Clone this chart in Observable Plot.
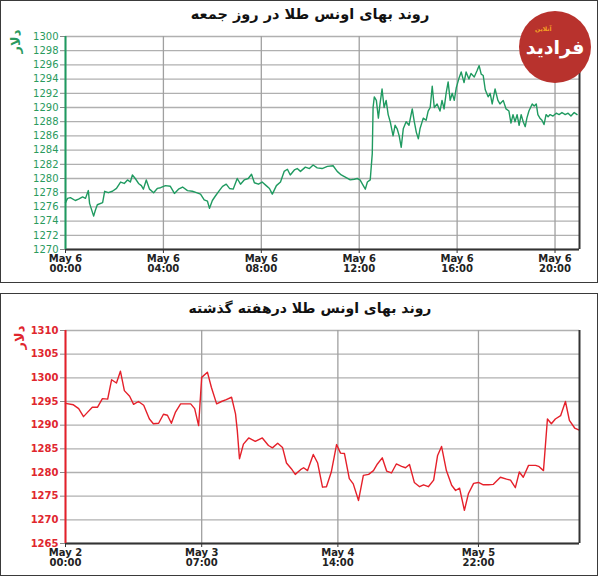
<!DOCTYPE html>
<html>
<head>
<meta charset="utf-8">
<script src="https://cdn.jsdelivr.net/npm/d3@7"></script>
<script src="https://cdn.jsdelivr.net/npm/@observablehq/plot@0.6"></script>
<style>
  html, body { margin: 0; padding: 0; background: #fff; }
  #page { position: relative; width: 600px; height: 578px; overflow: hidden; }
  .panel { position: absolute; left: 0; width: 596px; border: 1.5px solid #3a3a3a; box-sizing: content-box; }
  .plotwrap { position: absolute; left: 0; }
  .title { position: absolute; left: 0; width: 620px; text-align: center; font-family: "DejaVu Sans", sans-serif; font-weight: bold; font-size: 14px; color: #111; direction: rtl; }
  .unit { position: absolute; font-family: "DejaVu Sans", sans-serif; font-weight: bold; font-size: 13px; transform: rotate(-90deg); transform-origin: center; direction: rtl; }
  .logo { position: absolute; left: 519px; top: 11px; width: 72px; height: 72px; border-radius: 50%; background: #b8322d; color: #fff; font-family: "DejaVu Sans", sans-serif; font-weight: bold; font-size: 19px; display: flex; align-items: center; justify-content: center; direction: rtl; }
  .logo small { position: absolute; top: 14px; left: 16px; font-size: 6px; color: #f5a623; }
</style>
</head>
<body>
<div id="page">
  <div class="panel" style="top:0; height:281px;"></div>
  <div class="panel" style="top:293px; height:281px;"></div>
  <div class="plotwrap" id="top" style="top:0;"></div>
  <div class="plotwrap" id="bottom" style="top:293px;"></div>
  <div class="title" style="top:6px; font-size:14.5px;">روند بهای اونس طلا در روز جمعه</div>
  <div class="title" style="top:300px;">روند بهای اونس طلا درهفته گذشته</div>
  <div class="unit" style="left:4px; top:34px; color:#2a9a5e;">دلار</div>
  <div class="unit" style="left:8px; top:330px; color:#e0262e;">دلار</div>
  <div class="logo"><small>آنلاین</small>فرادید</div>
</div>
<script>
// ---- Top chart: Friday (May 6), minutes since 00:00 ----
const dayMinutes = [0,5,12,24,32,42,49,56,59,69,73,78,91,96,105,115,125,135,144,152,159,164,171,179,186,191,198,206,216,225,233,245,257,267,277,287,299,311,321,331,340,348,353,360,367,377,385,394,402,411,421,429,438,448,456,463,473,482,492,500,507,517,527,536,544,551,561,568,576,588,598,607,617,629,642,656,666,676,686,698,708,715,722,730,735,740,747,752,754,757,762,767,771,776,781,786,791,796,803,808,813,818,823,828,835,842,850,855,860,865,869,877,884,889,894,899,904,911,918,923,928,933,938,943,948,953,958,965,970,977,982,989,994,1002,1009,1014,1019,1024,1029,1036,1041,1046,1053,1060,1065,1073,1080,1087,1092,1097,1102,1107,1112,1117,1122,1127,1131,1136,1144,1149,1154,1158,1163,1168,1173,1178,1183,1188,1195,1203,1210,1217,1225,1232,1239,1247,1254];
const dayPrices = [1276.6,1277.2,1277.3,1276.9,1277.1,1277.4,1277.2,1278.3,1276.5,1274.7,1275.5,1276.3,1276.6,1278.2,1278.0,1278.2,1278.6,1279.5,1279.3,1279.8,1279.5,1280.5,1280.0,1279.3,1279.0,1278.5,1279.8,1278.5,1278.0,1278.6,1278.7,1279.0,1278.9,1277.9,1278.5,1278.8,1278.3,1278.2,1278.0,1277.8,1277.0,1276.8,1275.8,1276.9,1277.5,1278.3,1278.9,1279.2,1278.6,1278.5,1280.0,1279.2,1279.8,1280.0,1280.6,1279.4,1279.2,1279.5,1279.0,1278.6,1277.8,1279.0,1279.5,1281.0,1281.3,1280.5,1281.2,1281.4,1281.0,1281.6,1281.4,1281.9,1281.5,1281.4,1281.7,1281.8,1281.0,1280.5,1280.2,1279.8,1279.9,1280.0,1279.8,1279.0,1278.5,1279.5,1279.8,1283.5,1290.0,1291.5,1291.0,1288.5,1290.5,1292.6,1290.0,1291.0,1289.0,1288.0,1286.0,1287.5,1287.0,1286.0,1284.4,1287.0,1288.0,1287.5,1289.8,1288.0,1286.5,1285.6,1287.0,1288.5,1288.2,1289.5,1290.0,1293.0,1290.0,1290.5,1289.5,1291.0,1289.8,1292.0,1293.6,1291.0,1292.0,1291.0,1292.8,1294.2,1295.0,1293.5,1295.0,1294.0,1294.8,1294.3,1295.2,1295.9,1294.7,1294.5,1292.5,1291.5,1292.0,1290.5,1292.6,1291.0,1290.5,1291.0,1289.8,1289.5,1287.8,1289.0,1288.0,1289.0,1287.5,1289.0,1288.0,1287.3,1288.5,1289.5,1290.5,1290.2,1290.5,1289.0,1288.5,1288.2,1287.6,1289.0,1288.7,1289.0,1288.8,1289.2,1289.0,1289.3,1289.0,1289.2,1288.8,1289.3,1289.0];
const dayXTicks = [0, 240, 480, 720, 960, 1200];
const dayXLabels = ["May 6\n00:00", "May 6\n04:00", "May 6\n08:00", "May 6\n12:00", "May 6\n16:00", "May 6\n20:00"];
const dayYTicks = [1270,1272,1274,1276,1278,1280,1282,1284,1286,1288,1290,1292,1294,1296,1298,1300];

// ---- Bottom chart: past week, hours since May 2 00:00 ----
const weekHours = [0,1.8,3.0,4.1,5.0,6.1,7.3,8.4,9.6,10.5,11.6,12.5,13.4,14.6,15.5,16.6,17.8,19.1,20.0,21.2,22.3,23.2,24.1,25.0,26.2,28.5,29.4,30.3,31.0,32.3,33.2,34.4,35.5,36.6,37.8,38.7,39.1,39.6,40.5,41.7,43.2,44.8,46.2,47.1,48.3,49.4,50.3,51.4,52.3,53.5,54.2,55.1,56.4,57.4,58.5,59.4,60.5,61.7,62.6,63.5,64.6,65.5,66.7,67.8,69.0,70.1,71.0,72.1,73.1,74.2,75.3,76.5,77.4,78.3,79.4,80.6,81.5,82.6,83.8,84.7,85.6,86.7,87.9,88.8,89.7,90.8,91.7,92.9,94.0,95.1,96.3,97.4,99.0,100.4,101.3,102.4,103.3,104.2,105.4,107.0,107.7,108.8,109.7,110.6,111.5,112.7,113.8,114.7,115.9,116.8];
const weekPrices = [1294.6,1294.3,1293.5,1291.8,1292.7,1293.8,1293.8,1295.6,1295.5,1299.6,1298.9,1301.4,1297.3,1296.1,1294.4,1295.0,1294.2,1291.3,1290.3,1290.4,1292.3,1292.1,1290.4,1292.7,1294.5,1294.5,1293.5,1289.9,1300.1,1301.2,1298.0,1294.5,1295.0,1295.4,1295.9,1292.4,1288.9,1282.9,1286.0,1287.3,1286.6,1287.3,1285.7,1285.2,1286.2,1285.3,1282.0,1280.8,1279.6,1280.6,1281.0,1280.4,1283.8,1282.0,1276.9,1277.0,1280.1,1285.9,1284.1,1284.0,1278.7,1277.6,1274.1,1279.4,1279.6,1280.4,1281.8,1283.1,1280.3,1279.9,1281.8,1281.3,1281.0,1281.7,1277.9,1277.0,1277.4,1277.0,1278.4,1283.6,1285.5,1280.4,1277.3,1276.2,1276.7,1272.0,1275.5,1277.7,1277.9,1277.4,1277.4,1277.5,1279.0,1278.6,1278.4,1276.8,1280.1,1279.0,1281.5,1281.5,1281.3,1280.4,1291.3,1290.3,1291.3,1292.0,1295.0,1291.0,1289.4,1289.0];
const weekXTicks = [0, 31, 62, 94];
const weekXLabels = ["May 2\n00:00", "May 3\n07:00", "May 4\n14:00", "May 5\n22:00"];
const weekYTicks = [1265,1270,1275,1280,1285,1290,1295,1300,1305,1310];

function chart({xs, ys, xDomain, yDomain, xTicks, xLabels, yTicks, color, labelColor, height, mt, mb, yWeight}) {
  const data = xs.map((x, i) => ({x, y: ys[i]}));
  return Plot.plot({
    width: 600, height,
    marginLeft: 65, marginRight: 21, marginTop: mt, marginBottom: mb,
    style: {fontFamily: "DejaVu Sans, sans-serif", fontSize: "10px", background: "transparent", overflow: "visible"},
    x: {domain: xDomain, axis: null, label: null},
    y: {domain: yDomain, axis: null, label: null},
    marks: [
      Plot.gridY(yTicks, {stroke: "#b0b0b0", strokeOpacity: 1, strokeWidth: 1.3}),
      Plot.gridX(xTicks, {stroke: "#a0a0a0", strokeOpacity: 1, strokeWidth: 1.3}),
      Plot.axisY(yTicks, {label: null, tickSize: 5, tickPadding: 2, fill: labelColor, stroke: "#888", fontWeight: yWeight, tickFormat: d => String(d)}),
      Plot.axisX(xTicks, {label: null, tickSize: 4, tickPadding: 2, fill: "#222", stroke: "#333", fontWeight: "bold", lineHeight: 0.95, tickFormat: d => xLabels[xTicks.indexOf(d)]}),
      Plot.lineY(data, {x: "x", y: "y", stroke: color, strokeWidth: 1.4}),
      Plot.ruleY([yDomain[0]], {stroke: "#333", strokeWidth: 2}),
      Plot.ruleX([xDomain[1]], {stroke: "#333", strokeWidth: 2}),
      Plot.ruleX([xDomain[0]], {stroke: color, strokeWidth: 2})
    ]
  });
}

document.getElementById("top").append(chart({
  xs: dayMinutes, ys: dayPrices, xDomain: [0, 1260], yDomain: [1270, 1300],
  xTicks: dayXTicks, xLabels: dayXLabels, yTicks: dayYTicks,
  color: "#1f9a60", labelColor: "#2a9a5e", height: 283, mt: 36, mb: 34, yWeight: "normal"
}));
document.getElementById("bottom").append(chart({
  xs: weekHours, ys: weekPrices, xDomain: [0, 117], yDomain: [1265, 1310],
  xTicks: weekXTicks, xLabels: weekXLabels, yTicks: weekYTicks,
  color: "#e5202a", labelColor: "#e0262e", height: 284, mt: 37, mb: 34, yWeight: "bold"
}));
</script>
</body>
</html>
